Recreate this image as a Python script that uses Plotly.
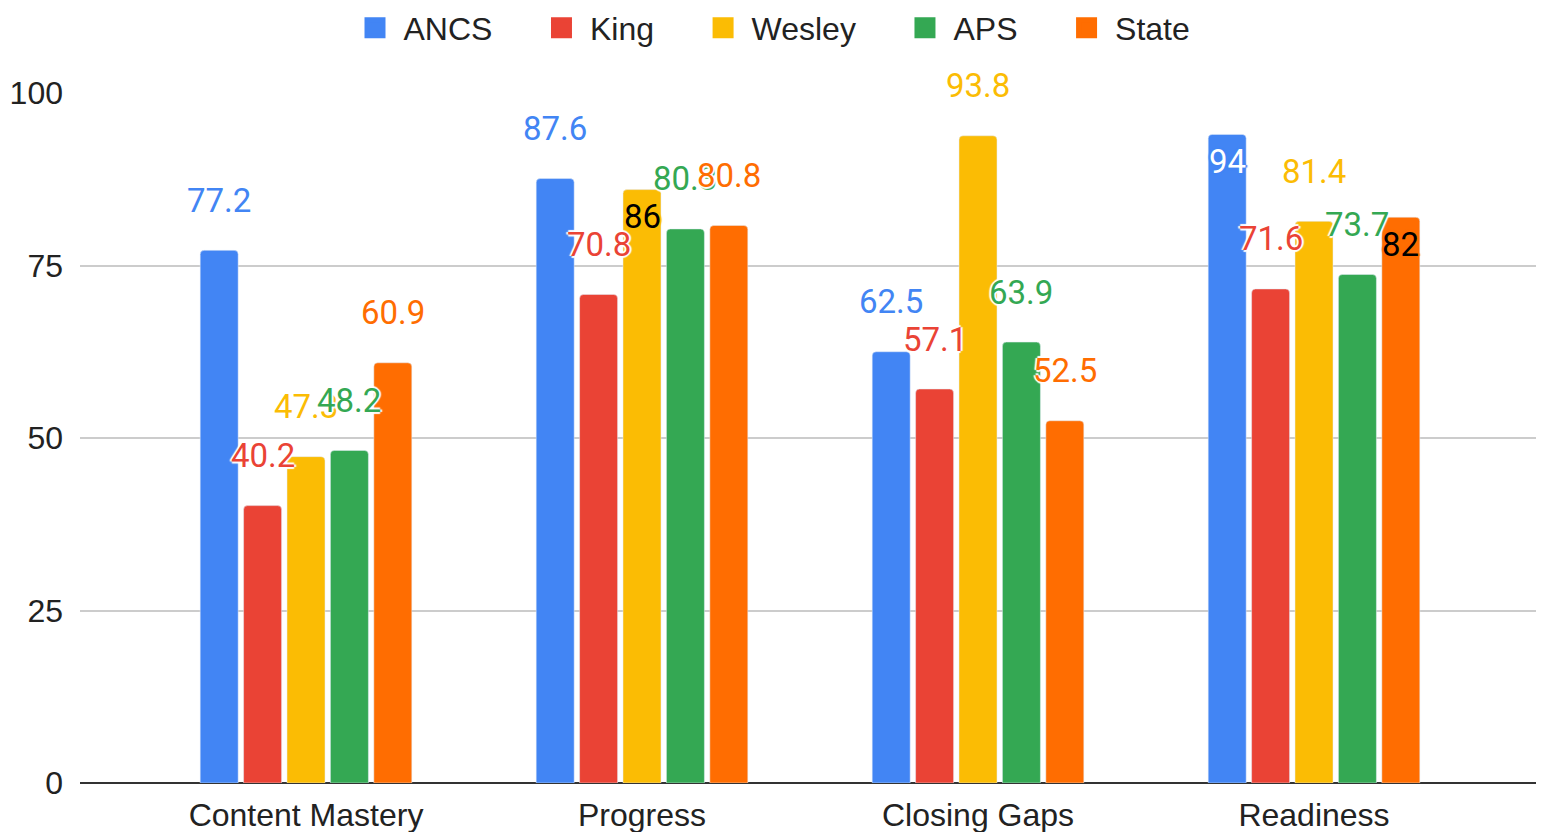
import plotly.graph_objects as go

categories = ["Content Mastery", "Progress", "Closing Gaps", "Readiness"]
series_names = ["ANCS", "King", "Wesley", "APS", "State"]
ancs = [77.2, 87.6, 62.5, 94]
king = [40.2, 70.8, 57.1, 71.6]
wesley = [47.3, 86, 93.8, 81.4]
aps = [48.2, 80.3, 63.9, 73.7]
state = [60.9, 80.8, 52.5, 82]
y_ticks = [0, 25, 50, 75, 100]

colors = ["#4285F4", "#EA4335", "#FBBC04", "#34A853", "#FF6D01"]
# labels that Google Sheets drew inside the bar (collision avoidance): (series, category) -> font colour
inside_labels = {(2, 1): "#000000", (0, 3): "#FFFFFF", (4, 3): "#000000"}
# extra legend spacing (non-breaking spaces after each name)
legend_pad = [4, 4, 4, 4, 0]

values = [ancs, king, wesley, aps, state]

W, H = 1536, 824
ML, MR, MT, MB = 72, 4, 85, 49
BARGAP = 0.354
GROUPGAP = 0.125
PAD = 0.1726
FONT = "Liberation Sans, Arial, sans-serif"
LABEL_FONT = "Roboto, Arial, sans-serif"
FS = 32

fig = go.Figure()
for name, vals, col, pad in zip(series_names, values, colors, legend_pad):
    fig.add_trace(go.Bar(
        name=name, x=categories, y=vals, marker=dict(color=col, cornerradius=4),
        showlegend=False, hoverinfo="x+y+name"))
    fig.add_trace(go.Scatter(
        name=name + "\u00a0" * pad, x=[None], y=[None], mode="markers",
        marker=dict(symbol="square", size=16, color=col, line=dict(color=col, width=5)),
        showlegend=True, hoverinfo="skip"))

plot_w = W - ML - MR
plot_h = H - MT - MB
units = len(categories) + 2 * PAD
px_per_cat = plot_w / units
slot = px_per_cat * (1 - BARGAP) / len(series_names)

annotations = []
halo = "2px 0 1px white, -2px 0 1px white, 0 2px 1px white, 0 -2px 1px white"
for i, (vals, col) in enumerate(zip(values, colors)):
    for j, v in enumerate(vals):
        key = (i, j)
        if key in inside_labels:
            fcol = inside_labels[key]
            ysh = -27
            sh = "2px 0 1px {c}, -2px 0 1px {c}, 0 2px 1px {c}, 0 -2px 1px {c}".format(c=col)
        else:
            fcol = col
            ysh = 50
            sh = halo
        annotations.append(dict(
            x=categories[j], y=v, xref="x", yref="y",
            xshift=(i - (len(series_names) - 1) / 2) * slot, yshift=ysh,
            text=f"{v:g}", showarrow=False,
            font=dict(family=LABEL_FONT, size=33, color=fcol, shadow=sh),
            xanchor="center", yanchor="middle"))

LEGEND_CENTER_Y = 20   # px from top of figure
LEGEND_CENTER_X = 763  # px from left of figure

fig.update_layout(
    width=W, height=H,
    margin=dict(l=ML, r=MR, t=MT, b=MB, autoexpand=False),
    paper_bgcolor="white", plot_bgcolor="white",
    barmode="group", bargap=BARGAP, bargroupgap=GROUPGAP,
    font=dict(family=FONT, size=FS, color="#222222"),
    legend=dict(orientation="h", xref="paper", yref="paper",
                x=(LEGEND_CENTER_X - ML) / plot_w, xanchor="center",
                y=1 + (MT - LEGEND_CENTER_Y) / plot_h, yanchor="middle",
                font=dict(family=FONT, size=FS, color="#222222"),
                itemwidth=47, bgcolor="rgba(0,0,0,0)"),
    xaxis=dict(type="category", range=[-0.5 - PAD, len(categories) - 0.5 + PAD],
               showgrid=False, showline=False, ticks="", zeroline=False,
               tickfont=dict(family=FONT, size=FS, color="#222222"),
               ticklabelstandoff=10, automargin=False, tickangle=0),
    yaxis=dict(range=[0, 100], tickvals=y_ticks, showgrid=True, gridcolor="#CCCCCC",
               gridwidth=2, zeroline=True, zerolinecolor="#333333", zerolinewidth=2,
               ticks="", tickfont=dict(family=FONT, size=FS, color="#222222"),
               ticklabelstandoff=16, showline=False, automargin=False),
    annotations=annotations,
)

fig.write_html("out.html")
